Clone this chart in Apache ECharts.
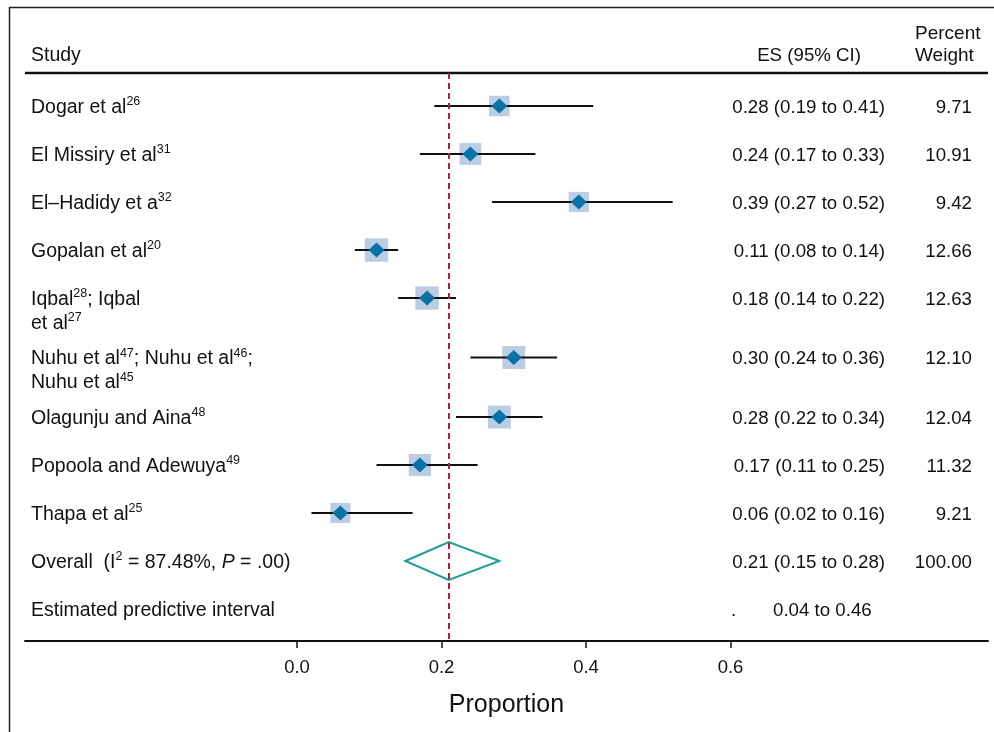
<!DOCTYPE html>
<html>
<head>
<meta charset="utf-8">
<script src="https://cdn.jsdelivr.net/npm/echarts@6/dist/echarts.min.js"></script>
<style>
  html, body { margin: 0; padding: 0; background: #fff; }
  #forest { width: 994px; height: 732px; }
</style>
</head>
<body>
<div id="forest"></div>
<script>
// study labels (rich text: n = normal, s = superscript reference)
var labels = [
    '{n|Dogar et al}{s|26}',
    '{n|El Missiry et al}{s|31}',
    '{n|El\u2013Hadidy et a}{s|32}',
    '{n|Gopalan et al}{s|20}',
    '{n|Iqbal}{s|28}{n|; Iqbal}\n{n|et al}{s|27}',
    '{n|Nuhu et al}{s|47}{n|; Nuhu et al}{s|46}{n|;}\n{n|Nuhu et al}{s|45}',
    '{n|Olagunju and Aina}{s|48}',
    '{n|Popoola and Adewuya}{s|49}',
    '{n|Thapa et al}{s|25}'
];
var es      = [0.28, 0.24, 0.39, 0.11, 0.18, 0.30, 0.28, 0.17, 0.06];
var ciLow   = [0.19, 0.17, 0.27, 0.08, 0.14, 0.24, 0.22, 0.11, 0.02];
var ciHigh  = [0.41, 0.33, 0.52, 0.14, 0.22, 0.36, 0.34, 0.25, 0.16];
var weights = [9.71, 10.91, 9.42, 12.66, 12.63, 12.10, 12.04, 11.32, 9.21];
var overall = [0.21, 0.15, 0.28, 100.00];   // es, low, high, weight
var overallLabel = '{n|Overall  (I}{s|2}{n| = 87.48%, }{i|P}{n| = .00)}';
var predictive = [0.04, 0.46];
var predictiveLabel = '{n|Estimated predictive interval}';
var xTicks = [0, 0.2, 0.4, 0.6];

var FONT = '"Liberation Sans", Arial, sans-serif';
var richStyle = {
    n: { fontSize: 19.5, lineHeight: 24, fontFamily: FONT, color: '#111' },
    d: { fontSize: 18.7, lineHeight: 24, fontFamily: FONT, color: '#111' },
    i: { fontSize: 19.5, lineHeight: 24, fontFamily: FONT, color: '#111', fontStyle: 'italic' },
    s: { fontSize: 12.5, lineHeight: 8, fontFamily: FONT, color: '#111', verticalAlign: 'top' }
};

// row positions: two-line labels push the next row down a bit
var rowLines = labels.map(function (l) { return l.split('\n').length; });
var rowPos = [];
var p = 0.6875;
for (var k = 0; k < labels.length; k++) {
    rowPos.push(p);
    p += 1 + 0.24 * (rowLines[k] - 1);
}
var overallPos = p;
var predictivePos = p + 1;

var studyData = es.map(function (v, i) {
    return [v, rowPos[i], ciLow[i], ciHigh[i], weights[i], i];
});

function textEl(x, y, text, align) {
    return {
        type: 'text', x: x, y: y - 10.5,
        style: {
            text: text, rich: richStyle, align: align || 'left', verticalAlign: 'top',
            font: '19px ' + FONT, fill: '#111'
        }
    };
}

function num(s) { return '{d|' + s + '}'; }

function renderStudy(params, api) {
    var i = api.value(5);
    var c = api.coord([api.value(0), api.value(1)]);
    var l = api.coord([api.value(2), api.value(1)]);
    var h = api.coord([api.value(3), api.value(1)]);
    var side = 6.6 * Math.sqrt(api.value(4));
    var y = c[1];
    return {
        type: 'group',
        children: [
            { type: 'rect', shape: { x: c[0] - side / 2, y: y - side / 2, width: side, height: side },
              style: { fill: '#bccde3' } },
            { type: 'line', shape: { x1: l[0], y1: y, x2: h[0], y2: y },
              style: { stroke: '#111', lineWidth: 2 } },
            { type: 'polygon', shape: { points: [[c[0] - 8, y], [c[0], y - 7.5], [c[0] + 8, y], [c[0], y + 7.5]] },
              style: { fill: '#0b72a7' } },
            textEl(31, y, labels[i]),
            textEl(885, y, num(es[i].toFixed(2) + ' (' + ciLow[i].toFixed(2) + ' to ' + ciHigh[i].toFixed(2) + ')'), 'right'),
            textEl(972, y, num(weights[i].toFixed(2)), 'right')
        ]
    };
}

function renderOverall(params, api) {
    var c = api.coord([api.value(0), api.value(1)]);
    var l = api.coord([api.value(2), api.value(1)]);
    var h = api.coord([api.value(3), api.value(1)]);
    var y = c[1];
    return {
        type: 'group',
        children: [
            { type: 'polygon', shape: { points: [[l[0], y], [c[0], y - 19], [h[0], y], [c[0], y + 19]] },
              style: { fill: 'none', stroke: '#1f9e95', lineWidth: 2 } },
            textEl(31, y, overallLabel),
            textEl(885, y, num(overall[0].toFixed(2) + ' (' + overall[1].toFixed(2) + ' to ' + overall[2].toFixed(2) + ')'), 'right'),
            textEl(972, y, num(overall[3].toFixed(2)), 'right')
        ]
    };
}

function renderPredictive(params, api) {
    var y = api.coord([0, api.value(1)])[1];
    return {
        type: 'group',
        children: [
            textEl(31, y, predictiveLabel),
            textEl(731, y, num('.')),
            textEl(773, y, num(predictive[0].toFixed(2) + ' to ' + predictive[1].toFixed(2)))
        ]
    };
}

var myChart = echarts.init(document.getElementById('forest'));
var option = {
    backgroundColor: '#fff',
    animation: false,
    grid: { left: 25, right: 6, top: 73, bottom: 91 },
    xAxis: {
        type: 'value',
        min: -0.3765,
        max: 0.9564,
        splitLine: { show: false },
        axisLine: { show: true, onZero: false, lineStyle: { color: '#111', width: 2 } },
        axisTick: { show: true, length: 7, customValues: xTicks, lineStyle: { color: '#111', width: 1.5 } },
        axisLabel: {
            customValues: xTicks, margin: 17, color: '#111', fontSize: 18.5, fontFamily: FONT,
            formatter: function (v) { return v.toFixed(1); }
        },
        name: 'Proportion',
        nameLocation: 'middle',
        nameGap: 52,
        nameTextStyle: { fontSize: 25, color: '#111', fontFamily: FONT }
    },
    yAxis: {
        type: 'value', inverse: true, min: 0, max: 568 / 48, show: false
    },
    graphic: [
        { type: 'line', shape: { x1: 9, y1: 7.5, x2: 994, y2: 7.5 }, style: { stroke: '#222', lineWidth: 1.5 } },
        { type: 'line', shape: { x1: 9.5, y1: 7, x2: 9.5, y2: 732 }, style: { stroke: '#222', lineWidth: 1.5 } },
        { type: 'line', shape: { x1: 25, y1: 73, x2: 988, y2: 73 }, style: { stroke: '#111', lineWidth: 2.5 } },
        { type: 'text', left: 31, top: 46, style: { text: 'Study', font: '19.5px ' + FONT, fill: '#111' } },
        { type: 'text', right: 994 - 861, top: 46, style: { text: 'ES (95% CI)', font: '18.7px ' + FONT, fill: '#111' } },
        { type: 'text', left: 915, top: 24, style: { text: 'Percent', font: '19px ' + FONT, fill: '#111' } },
        { type: 'text', left: 915, top: 46, style: { text: 'Weight', font: '19px ' + FONT, fill: '#111' } }
    ],
    series: [
        {
            type: 'custom',
            name: 'studies',
            renderItem: renderStudy,
            clip: false,
            data: studyData,
            markLine: {
                silent: true,
                symbol: 'none',
                label: { show: false },
                lineStyle: { color: '#b5213d', type: [6, 4], width: 2 },
                data: [{ xAxis: overall[0] }]
            }
        },
        {
            type: 'custom',
            name: 'overall',
            renderItem: renderOverall,
            clip: false,
            data: [[overall[0], overallPos, overall[1], overall[2]]]
        },
        {
            type: 'custom',
            name: 'predictive',
            renderItem: renderPredictive,
            clip: false,
            data: [[predictive[0], predictivePos]]
        }
    ]
};
myChart.setOption(option);
</script>
</body>
</html>
